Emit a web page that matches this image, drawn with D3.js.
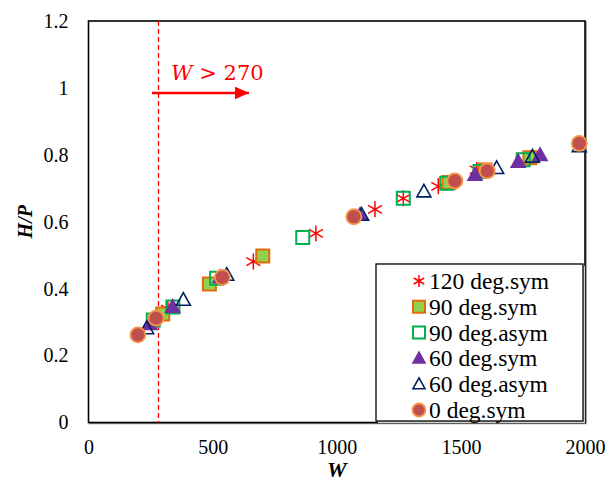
<!DOCTYPE html>
<html><head><meta charset="utf-8">
<script src="https://cdn.jsdelivr.net/npm/d3@7"></script>
<style>body{margin:0;background:#fff}svg{display:block}</style>
</head><body>
<svg id="c" width="610" height="496"></svg>
<script>
const xTicks = [0, 500, 1000, 1500, 2000];
const yTicks = [0, 0.2, 0.4, 0.6, 0.8, 1, 1.2];
const thresholdW = 282;
const thresholdLabel = "270";

const s120sym = [[320,0.339],[664,0.481],[916,0.565],[1154,0.637],[1268,0.670],[1409,0.706],[1564,0.755]];
const s90sym = [[299,0.324],[487,0.414],[702,0.498],[1452,0.717],[1597,0.755],[1778,0.791]];
const s90asym = [[261,0.306],[340,0.345],[516,0.431],[863,0.553],[1268,0.670],[1443,0.715],[1577,0.750],[1751,0.785]];
const s60sym = [[248,0.294],[339,0.345],[530,0.434],[1094,0.620],[1557,0.740],[1731,0.779],[1819,0.799]];
const s60asym = [[234,0.281],[382,0.366],[557,0.441],[1100,0.620],[1351,0.690],[1644,0.760],[1788,0.794],[1977,0.825]];
const s0sym = [[199,0.262],[272,0.312],[539,0.434],[1069,0.615],[1476,0.722],[1606,0.752],[1977,0.834]];

const series = [
  {name:"120 deg.sym", data:s120sym, shape:"star", fill:"none", stroke:"#ff0000"},
  {name:"90 deg.sym", data:s90sym, shape:"square", fill:"#92d050", stroke:"#e46c0a"},
  {name:"90 deg.asym", data:s90asym, shape:"square", fill:"none", stroke:"#00b050"},
  {name:"60 deg.sym", data:s60sym, shape:"triangle", fill:"#7030a0", stroke:"#7030a0"},
  {name:"60 deg.asym", data:s60asym, shape:"triangle", fill:"none", stroke:"#002060"},
  {name:"0 deg.sym", data:s0sym, shape:"circle", fill:"#c0504d", stroke:"#f79646"}
];

const svg = d3.select("#c");
const L = 88.5, R = 585, T = 21, B = 422.5;
const x = d3.scaleLinear().domain([0,2000]).range([L,R]);
const y = d3.scaleLinear().domain([0,1.2]).range([B,T]);
const serif = "'Liberation Serif','Times New Roman',serif";

function markerPath(shape, r){
  if(shape==="square") return `M${-r},${-r}H${r}V${r}H${-r}Z`;
  if(shape==="triangle") return `M0,${-r*1.05}L${r},${r*0.75}L${-r},${r*0.75}Z`;
  if(shape==="circle") return d3.symbol(d3.symbolCircle, Math.PI*r*r)();
  if(shape==="star"){
    const a = r*0.87, b = r*0.5;
    return `M0,${-r}V${r}M${-a},${-b}L${a},${b}M${-a},${b}L${a},${-b}`;
  }
}
const sizes = {square:6.5, triangle:7, circle:7.5, star:8};
const widths = {square:2, triangle:1.6, circle:1.8, star:1.5};

// frame
svg.append("rect").attr("x",L+1).attr("y",T+1).attr("width",R-L).attr("height",B-T)
  .attr("fill","none").attr("stroke","#888").attr("stroke-width",1.5);
svg.append("rect").attr("x",L).attr("y",T).attr("width",R-L).attr("height",B-T)
  .attr("fill","#fff").attr("stroke","#000").attr("stroke-width",1.6);

// axes labels (no tick marks)
const xa = svg.append("g").attr("transform",`translate(0,${B})`)
  .call(d3.axisBottom(x).tickValues(xTicks).tickSize(0).tickPadding(17).tickFormat(d3.format("d")));
xa.select(".domain").remove();
xa.selectAll("text").attr("font-family",serif).attr("font-size",20).attr("fill","#000");
const ya = svg.append("g").attr("transform",`translate(${L},0)`)
  .call(d3.axisLeft(y).tickValues(yTicks).tickSize(0).tickPadding(20).tickFormat(d=>String(+d.toFixed(1))));
ya.select(".domain").remove();
ya.selectAll("text").attr("font-family",serif).attr("font-size",20).attr("fill","#000");

svg.append("text").attr("x",(L+R)/2).attr("y",477).attr("text-anchor","middle")
  .attr("font-family",serif).attr("font-size",22).attr("font-weight","bold").attr("font-style","italic").text("W");
svg.append("text").attr("transform",`translate(32,${y(0.6)}) rotate(-90)`).attr("text-anchor","middle")
  .attr("font-family",serif).attr("font-size",20).attr("font-weight","bold").attr("font-style","italic").text("H/P");

// threshold line
svg.append("line").attr("x1",x(thresholdW)).attr("x2",x(thresholdW)).attr("y1",T).attr("y2",B)
  .attr("stroke","#ff0000").attr("stroke-width",1.3).attr("stroke-dasharray","5,3");
svg.append("defs").append("marker").attr("id","ah").attr("viewBox","0 0 10 10").attr("refX",10).attr("refY",5)
  .attr("markerWidth",5.5).attr("markerHeight",5).attr("markerUnits","strokeWidth").attr("orient","auto")
  .attr("preserveAspectRatio","none")
  .append("path").attr("d","M0,0L10,5L0,10Z").attr("fill","#ff0000");
svg.append("line").attr("x1",152).attr("x2",249).attr("y1",93).attr("y2",93)
  .attr("stroke","#ff0000").attr("stroke-width",2.6).attr("marker-end","url(#ah)");
const lab = svg.append("text").attr("x",171).attr("y",80).attr("font-family","'DejaVu Serif',serif")
  .attr("font-size",21).attr("fill","#ff0000");
lab.append("tspan").attr("font-style","italic").text("W");
lab.append("tspan").text(" > " + thresholdLabel);

// points
series.forEach(s=>{
  svg.append("g").selectAll("path").data(s.data).join("path")
    .attr("transform",d=>`translate(${x(d[0])},${y(d[1])})`)
    .attr("d",markerPath(s.shape,sizes[s.shape]))
    .attr("fill",s.fill).attr("stroke",s.stroke).attr("stroke-width",widths[s.shape]);
});

// legend
const lg = svg.append("g");
lg.append("rect").attr("x",378).attr("y",266).attr("width",207).attr("height",157)
  .attr("fill","#d0d0d0");
lg.append("rect").attr("x",376).attr("y",264).attr("width",207).attr("height",157)
  .attr("fill","#fff").attr("stroke","#000").attr("stroke-width",1.3);
series.forEach((s,i)=>{
  const cy = 281 + i*25.8;
  lg.append("path").attr("transform",`translate(419,${cy})`)
    .attr("d",markerPath(s.shape,s.shape==="circle"?6.5:6))
    .attr("fill",s.fill).attr("stroke",s.stroke).attr("stroke-width",widths[s.shape]);
  lg.append("text").attr("x",429).attr("y",cy+8).attr("font-family",serif).attr("font-size",23.5)
    .attr("fill","#000").text(s.name);
});
</script>
</body></html>
